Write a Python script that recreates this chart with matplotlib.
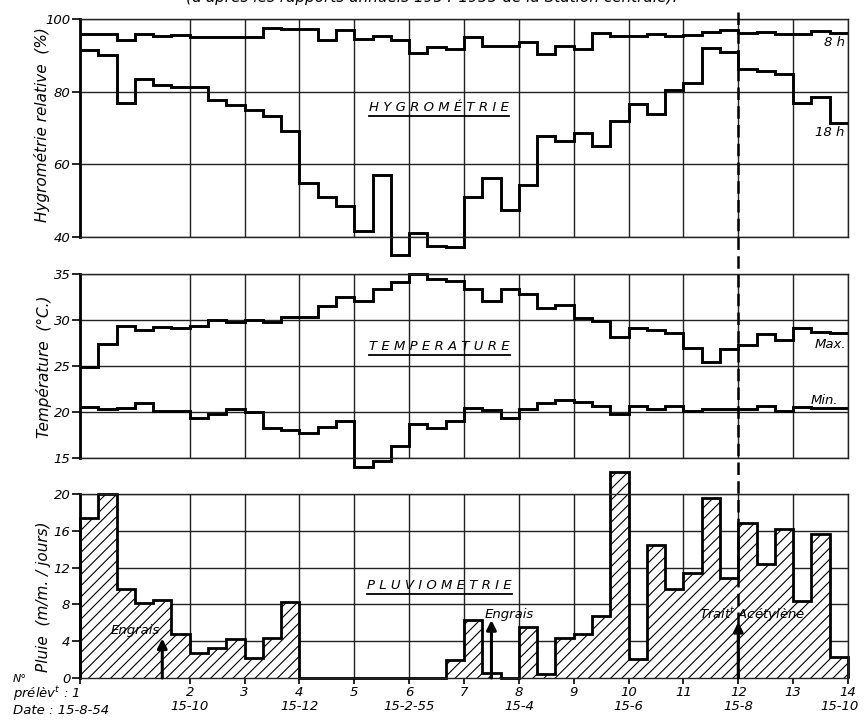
import numpy as np
import matplotlib
matplotlib.use('Agg')
import matplotlib.pyplot as plt
import matplotlib.transforms as mtransforms
from matplotlib.lines import Line2D

# valeurs par décade (3 par mois), du 15-8-54 au 15-10-55
hum_8h = [96.0, 96.0, 94.2, 96.0, 95.3, 95.7, 95.0, 95.0, 95.0, 95.0, 97.4, 97.2,
          97.3, 94.3, 97.1, 94.5, 95.2, 94.2, 90.6, 92.4, 91.7, 95.1, 92.5, 92.5,
          93.6, 90.4, 92.5, 91.7, 96.1, 95.3, 95.3, 95.9, 95.4, 95.6, 96.5, 97.0,
          96.1, 96.5, 95.8, 95.8, 96.7, 96.1]
hum_18h = [91.6, 90.2, 76.8, 83.5, 81.9, 81.4, 81.4, 77.8, 76.4, 75.0, 73.4, 69.1,
           55.0, 51.0, 48.4, 41.6, 57.0, 35.1, 41.0, 37.5, 37.2, 51.0, 56.2, 47.5,
           54.4, 67.9, 66.3, 68.7, 65.1, 72.0, 76.5, 73.9, 80.5, 82.5, 92.1, 91.0,
           86.2, 85.7, 84.9, 76.8, 78.6, 71.3]
t_max = [24.9, 27.4, 29.3, 28.9, 29.2, 29.1, 29.4, 30.0, 29.8, 30.0, 29.8, 30.3,
         30.3, 31.5, 32.5, 32.1, 33.4, 34.1, 35.0, 34.5, 34.2, 33.4, 32.1, 33.4,
         32.8, 31.3, 31.6, 30.2, 29.9, 28.2, 29.1, 28.9, 28.6, 27.0, 25.4, 26.8,
         27.3, 28.5, 27.8, 29.1, 28.7, 28.6]
t_min = [20.5, 20.3, 20.4, 21.0, 20.1, 20.1, 19.4, 19.8, 20.3, 20.0, 18.3, 18.0,
         17.7, 18.4, 19.0, 14.0, 14.7, 16.3, 18.7, 18.3, 19.0, 20.4, 20.2, 19.3,
         20.3, 21.0, 21.3, 21.1, 20.7, 19.8, 20.7, 20.3, 20.7, 20.1, 20.3, 20.3,
         20.3, 20.7, 20.1, 20.5, 20.4, 20.4]
rain = [17.4, 20.0, 9.7, 8.2, 8.5, 4.8, 2.7, 3.3, 4.2, 2.2, 4.3, 8.3,
        0, 0, 0, 0, 0, 0, 0, 0, 2.0, 6.3, 0.5, 0,
        5.5, 0.4, 4.3, 4.8, 6.7, 22.4, 2.1, 14.5, 9.7, 11.4, 19.6, 10.9,
        16.8, 12.4, 16.2, 8.4, 15.7, 2.3]

# prélèvements (mois depuis le 15-8-54)
sample_no = [1, 2, 3, 4, 5, 6, 7, 8, 9, 10, 11, 12, 13, 14]
sample_month = [0, 2, 3, 4, 5, 6, 7, 8, 9, 10, 11, 12, 13, 14]
sample_date = ['15-8-54', '15-10', '', '15-12', '', '15-2-55', '', '15-4', '',
               '15-6', '', '15-8', '', '15-10']

edges = np.arange(len(rain) + 1) / 3.0

plt.rcParams['font.family'] = ['DejaVu Sans']
plt.rcParams['font.style'] = 'italic'
plt.rcParams['hatch.linewidth'] = 0.8
plt.rcParams['mathtext.default'] = 'it'

W, H = 865, 721
fig = plt.figure(figsize=(W / 100, H / 100), dpi=100)


def box(top, bottom):
    return [80 / W, 1 - bottom / H, 768 / W, (bottom - top) / H]


ax1 = fig.add_axes(box(19, 237))
ax2 = fig.add_axes(box(274, 458))
ax3 = fig.add_axes(box(494, 678))

for ax in (ax1, ax2, ax3):
    ax.set_xlim(0, 14)
    ax.set_xticks(sample_month)
    ax.grid(True, color='#222222', lw=1.0)
    ax.set_axisbelow(True)
    for s in ax.spines.values():
        s.set_linewidth(1.0)
        s.set_color('#222222')
    ax.spines['left'].set_linewidth(2.0)
    ax.spines['left'].set_color('black')
    ax.tick_params(axis='y', direction='out', length=6, width=1.2, labelsize=9.5, pad=1)
    ax.tick_params(axis='x', length=0, labelbottom=False)

# hygrometrie
ax1.set_ylim(40, 100)
ax1.set_yticks([40, 60, 80, 100])
ax1.stairs(hum_8h, edges, baseline=None, color='black', lw=2.1, clip_on=False)
ax1.stairs(hum_18h, edges, baseline=None, color='black', lw=2.1, clip_on=False)
ax1.text(13.94, 93.4, '8 h', ha='right', va='center', fontsize=9.5)
ax1.text(13.94, 68.8, '18 h', ha='right', va='center', fontsize=9.5)

# temperature
ax2.set_ylim(15, 35)
ax2.set_yticks([15, 20, 25, 30, 35])
ax2.stairs(t_max, edges, baseline=None, color='black', lw=2.1, clip_on=False)
ax2.stairs(t_min, edges, baseline=None, color='black', lw=2.1, clip_on=False)
ax2.text(13.97, 27.3, 'Max.', ha='right', va='center', fontsize=9.5)
ax2.text(13.82, 21.3, 'Min.', ha='right', va='center', fontsize=9.5)

# pluviometrie
ax3.set_ylim(0, 20)
ax3.set_yticks([0, 4, 8, 12, 16, 20])
ax3.stairs(rain, edges, fill=True, facecolor='white', edgecolor='black',
           hatch='///', lw=2.0, clip_on=False)
ax3.tick_params(axis='x', length=4, width=1.2, direction='out', labelbottom=True,
                labelsize=9.5, pad=2)
# numeros de prelevement (les dates sont ecrites a part)
labels = [''] + [str(n) for n in sample_no[1:]]
ax3.set_xticklabels(labels)

trans = mtransforms.blended_transform_factory(ax3.transData, fig.transFigure)
for m, d in zip(sample_month[1:], sample_date[1:]):
    if d:
        xm = min(m, 13.84)  # la derniere date reste dans l'image
        fig.text(xm, 1 - 707 / H, d, transform=trans, ha='center', va='center',
                 fontsize=9.5)

arrow = dict(arrowstyle='-|>', lw=2.2, color='black', mutation_scale=14,
             shrinkA=0, shrinkB=0)
ax3.annotate('', xy=(1.5, 4.3), xytext=(1.5, 0), arrowprops=arrow)
ax3.annotate('', xy=(7.5, 6.3), xytext=(7.5, 0), arrowprops=arrow)
ax3.annotate('', xy=(12.0, 6.1), xytext=(12.0, 0), arrowprops=arrow)
ax3.text(1.0, 5.2, 'Engrais', ha='center', va='center', fontsize=9.5)
ax3.text(7.82, 6.9, 'Engrais', ha='center', va='center', fontsize=9.5)
ax3.text(12.25, 6.9, 'Trait$^t$ Acétylène', ha='center', va='center', fontsize=9.5)

# titres soulignes des panneaux
renderer = fig.canvas.get_renderer()
for ax, yv, s in ((ax1, 75.6, 'H Y G R O M É T R I E'),
                  (ax2, 27.1, 'T E M P E R A T U R E'),
                  (ax3, 10.1, 'P L U V I O M E T R I E')):
    t = ax.text(6.55, yv, s, ha='center', va='center', fontsize=9.5)
    bb = t.get_window_extent(renderer).transformed(fig.transFigure.inverted())
    fig.add_artist(Line2D([bb.x0, bb.x1], [bb.y0 - 0.003, bb.y0 - 0.003],
                          color='black', lw=1.3, transform=fig.transFigure))

# ligne du traitement (prelevement 12)
fig.add_artist(Line2D([12, 12], [1 - 12 / H, 1 - 678 / H], transform=trans,
                      color='black', lw=1.8, ls=(0, (5, 2.5))))

# axes labels
fig.text(42 / W, 1 - 125 / H, 'Hygrométrie relative  (%)', rotation=90,
         ha='center', va='center', fontsize=11)
fig.text(44 / W, 1 - 367 / H, 'Température  (°C.)', rotation=90,
         ha='center', va='center', fontsize=11)
fig.text(44 / W, 1 - 597 / H, 'Pluie  (m/m. / jours)', rotation=90,
         ha='center', va='center', fontsize=11)

fig.text(13 / W, 1 - 679 / H, 'N°', ha='left', va='center', fontsize=8)
fig.text(13 / W, 1 - 694 / H, 'prélèv$^t$ : 1', ha='left', va='center', fontsize=9.5)
fig.text(13 / W, 1 - 710 / H, 'Date : 15-8-54', ha='left', va='center', fontsize=9.5)

fig.text(432 / W, 1 + 3 / H, "(d'après les rapports annuels 1954-1955 de la Station centrale).",
         ha='center', va='center', fontsize=11)

fig.savefig('out.png', dpi=100, facecolor='white')
